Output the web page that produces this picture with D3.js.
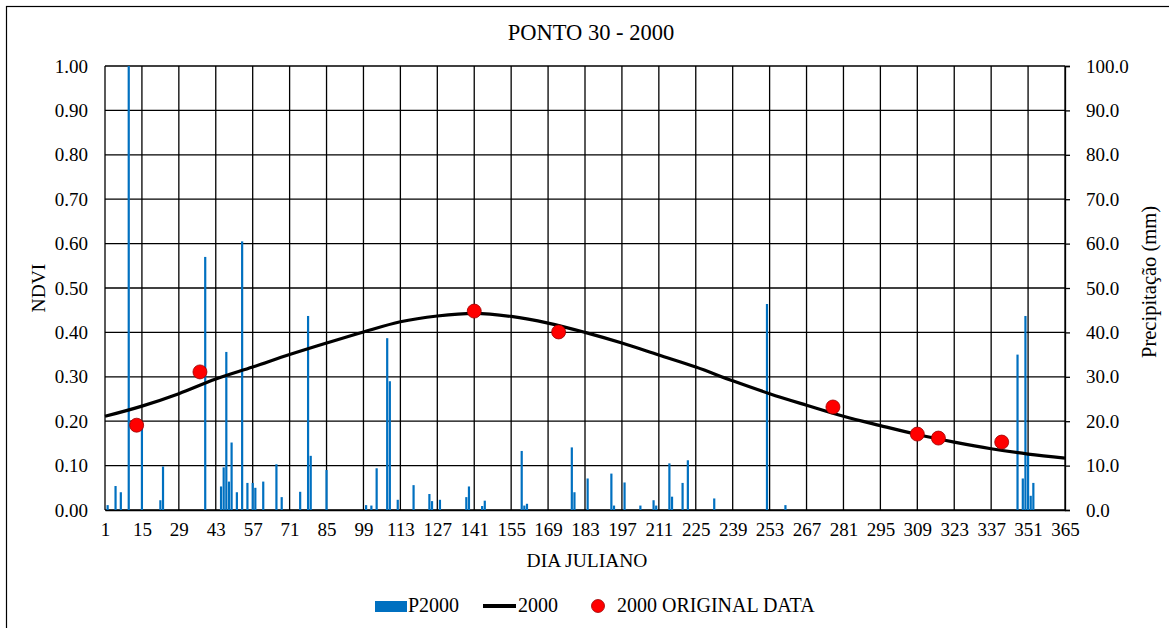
<!DOCTYPE html>
<html>
<head>
<meta charset="utf-8">
<script src="https://cdn.jsdelivr.net/npm/d3@7"></script>
<style>
  html, body { margin: 0; padding: 0; background: #fff; }
  svg { display: block; }
</style>
</head>
<body>
<svg id="chart" width="1169" height="628"></svg>
<script>
// Julian-day axis ticks and value axis ticks
const dayTicks = [1, 15, 29, 43, 57, 71, 85, 99, 113, 127, 141, 155, 169, 183, 197, 211, 225, 239, 253, 267, 281, 295, 309, 323, 337, 351, 365];
const ndviTicks = [0, 0.1, 0.2, 0.3, 0.4, 0.5, 0.6, 0.7, 0.8, 0.9, 1.0];
const precipTicks = [0, 10, 20, 30, 40, 50, 60, 70, 80, 90, 100];

// Daily precipitation P2000 (mm): day and amount
const rainDays = [2, 5, 7, 10, 15, 22, 23, 39, 45, 46, 47, 48, 49, 51, 53, 55, 57, 58, 61, 66, 68,
  75, 78, 79, 85, 100, 102, 104, 108, 109, 112, 118, 124, 125, 128, 138, 139, 144, 145,
  159, 160, 161, 178, 179, 184, 193, 194, 198, 204, 209, 210, 215, 216, 220, 222, 232,
  252, 259, 347, 349, 350, 351, 352, 353];
const rainMm = [1.1, 5.4, 4.0, 100, 19.5, 2.2, 9.8, 57.0, 5.3, 9.6, 35.6, 6.4, 15.2, 4.0, 60.5, 6.1, 6.1, 5.0, 6.4, 10.3, 2.9,
  4.1, 43.7, 12.2, 9.0, 1.1, 1.0, 9.4, 38.7, 29.0, 2.3, 5.6, 3.6, 2.0, 2.3, 2.9, 5.3, 0.9, 2.1,
  13.3, 1.0, 1.4, 14.1, 4.0, 7.1, 8.2, 1.0, 6.2, 1.0, 2.2, 1.0, 10.5, 3.0, 6.1, 11.2, 2.6,
  46.4, 1.1, 35.0, 7.1, 43.7, 12.4, 3.2, 6.1];

// Fitted NDVI curve "2000", sampled at the axis tick days
const curveDays = dayTicks;
const curveNdvi = [0.211, 0.234, 0.262, 0.295, 0.322, 0.350, 0.376, 0.401, 0.424, 0.437, 0.443, 0.436, 0.421,
  0.400, 0.376, 0.349, 0.322, 0.291, 0.262, 0.236, 0.211, 0.190, 0.170, 0.153, 0.138, 0.126, 0.117];

// Observed NDVI "2000 ORIGINAL DATA"
const obsDays = [13, 37, 141, 173, 277, 309, 317, 341];
const obsNdvi = [0.191, 0.311, 0.448, 0.401, 0.232, 0.171, 0.162, 0.153];

const svg = d3.select("#chart");
const plotL = 105, plotR = 1065, plotT = 66, plotB = 510;
const fontSize = 19;
const serif = "'Liberation Serif', 'Times New Roman', serif";

const x = d3.scaleLinear().domain([1, 365]).range([plotL, plotR]);
const yL = d3.scaleLinear().domain([0, 1]).range([plotB, plotT]);
const yR = d3.scaleLinear().domain([0, 100]).range([plotB, plotT]);

// Applies the chart's text style to a selection of text nodes
function serifText(sel, size) {
  return sel.style("font-family", serif).style("font-size", (size || fontSize) + "px").attr("fill", "#000");
}

// Outer chart frame
svg.append("rect")
  .attr("x", 6.5).attr("y", 6.5).attr("width", 1170).attr("height", 640)
  .attr("fill", "none").attr("stroke", "#000").attr("stroke-width", 1.2);

// Title
svg.append("text")
  .attr("x", 591).attr("y", 40).attr("text-anchor", "middle")
  .text("PONTO 30 - 2000")
  .call(serifText, 22.5);

// Grid
const grid = svg.append("g").attr("stroke", "#000").attr("stroke-width", 1.3);
grid.selectAll("line.h").data(ndviTicks).join("line").attr("class", "h")
  .attr("x1", plotL).attr("x2", plotR)
  .attr("y1", d => yL(d)).attr("y2", d => yL(d));
grid.selectAll("line.v").data(dayTicks).join("line").attr("class", "v")
  .attr("x1", d => x(d)).attr("x2", d => x(d))
  .attr("y1", plotT).attr("y2", plotB);

// Left axis (NDVI)
const axL = d3.axisLeft(yL).tickValues(ndviTicks).tickFormat(d3.format(".2f")).tickSize(0).tickPadding(17);
svg.append("g").attr("transform", `translate(${plotL},0)`).call(axL)
  .call(g => g.select(".domain").remove())
  .selectAll("text").call(serifText);

// Right axis (precipitation)
const axR = d3.axisRight(yR).tickValues(precipTicks).tickFormat(d3.format(".1f")).tickSize(5).tickPadding(16);
svg.append("g").attr("transform", `translate(${plotR},0)`).call(axR)
  .call(g => g.select(".domain").attr("stroke", "#000").attr("stroke-width", 1.3))
  .call(g => g.selectAll(".tick line").attr("stroke", "#000").attr("stroke-width", 1.3))
  .selectAll("text").call(serifText);

// Bottom axis (Julian day)
const axB = d3.axisBottom(x).tickValues(dayTicks).tickFormat(d3.format("d")).tickSize(0).tickPadding(13);
svg.append("g").attr("transform", `translate(0,${plotB})`).call(axB)
  .call(g => g.select(".domain").attr("stroke", "#000").attr("stroke-width", 1.3))
  .selectAll("text").call(serifText);

// Precipitation bars
const rain = rainDays.map((d, i) => ({ day: d, mm: rainMm[i] }));
const barW = 2.2;
svg.append("g").selectAll("rect").data(rain).join("rect")
  .attr("x", d => x(d.day) - barW / 2)
  .attr("width", barW)
  .attr("y", d => yR(d.mm))
  .attr("height", d => yR(0) - yR(d.mm))
  .attr("fill", "#0070C0");

// Fitted NDVI curve
const curve = curveDays.map((d, i) => ({ day: d, v: curveNdvi[i] }));
svg.append("path").datum(curve)
  .attr("fill", "none").attr("stroke", "#000").attr("stroke-width", 3.2)
  .attr("stroke-linejoin", "round")
  .attr("d", d3.line().x(d => x(d.day)).y(d => yL(d.v)).curve(d3.curveCatmullRom));

// Observed NDVI points
const obs = obsDays.map((d, i) => ({ day: d, v: obsNdvi[i] }));
svg.append("g").selectAll("circle").data(obs).join("circle")
  .attr("cx", d => x(d.day)).attr("cy", d => yL(d.v)).attr("r", 7)
  .attr("fill", "#FF0000").attr("stroke", "#9b0000").attr("stroke-width", 0.8);

// Axis titles
svg.append("text")
  .attr("x", 587).attr("y", 567).attr("text-anchor", "middle")
  .text("DIA JULIANO").call(serifText, 19.5);
svg.append("text")
  .attr("transform", "translate(45,288) rotate(-90)").attr("text-anchor", "middle")
  .text("NDVI").call(serifText, 19.5);
svg.append("text")
  .attr("transform", "translate(1156,282) rotate(-90)").attr("text-anchor", "middle")
  .text("Precipitação (mm)").call(serifText, 20.5);

// Legend
const lg = svg.append("g");
lg.append("rect").attr("x", 375).attr("y", 601).attr("width", 32).attr("height", 11).attr("fill", "#0070C0");
lg.append("text").attr("x", 408).attr("y", 612).text("P2000").call(serifText, 20);
lg.append("line").attr("x1", 483).attr("x2", 516).attr("y1", 606).attr("y2", 606)
  .attr("stroke", "#000").attr("stroke-width", 4);
lg.append("text").attr("x", 518).attr("y", 612).text("2000").call(serifText, 20);
lg.append("circle").attr("cx", 598).attr("cy", 606).attr("r", 6.5)
  .attr("fill", "#FF0000").attr("stroke", "#9b0000").attr("stroke-width", 0.8);
lg.append("text").attr("x", 617).attr("y", 612).text("2000 ORIGINAL DATA").call(serifText, 20);
</script>
</body>
</html>
